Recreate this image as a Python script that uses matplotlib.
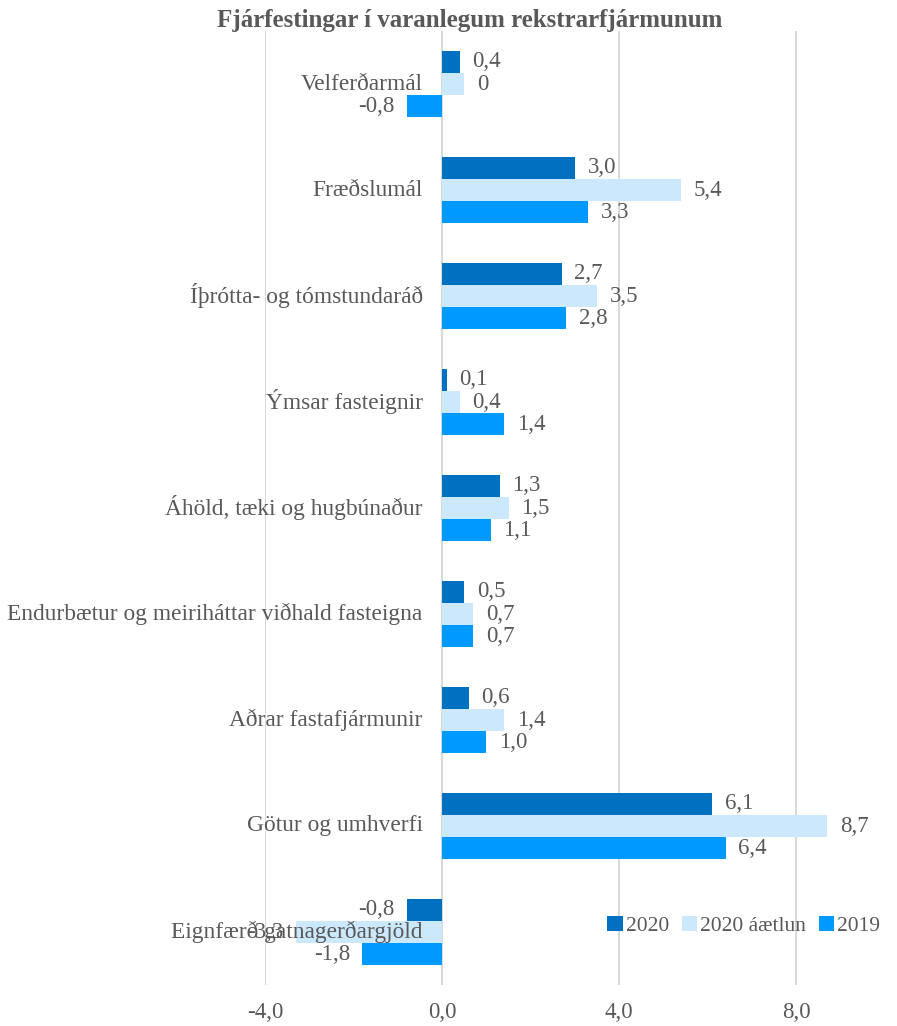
import matplotlib.pyplot as plt
import numpy as np

# data
categories = ['Velferðarmál', 'Fræðslumál', 'Íþrótta- og tómstundaráð', 'Ýmsar fasteignir',
              'Áhöld, tæki og hugbúnaður', 'Endurbætur og meiriháttar viðhald fasteigna',
              'Aðrar fastafjármunir', 'Götur og umhverfi', 'Eignfærð gatnagerðargjöld']
series_names = ['2020', '2020 áætlun', '2019']
vals_2020 = [0.4, 3.0, 2.7, 0.1, 1.3, 0.5, 0.6, 6.1, -0.8]
vals_plan = [0.5, 5.4, 3.5, 0.4, 1.5, 0.7, 1.4, 8.7, -3.3]
vals_2019 = [-0.8, 3.3, 2.8, 1.4, 1.1, 0.7, 1.0, 6.4, -1.8]
# label of the plan bar for Velferðarmál shows "0" in the source
plan_labels = ['0', '5,4', '3,5', '0,4', '1,5', '0,7', '1,4', '8,7', '-3,3']
x_ticks = [-4, 0, 4, 8]

colors = ['#0070C0', '#CCE8FC', '#0099FF']
txt = '#595959'
font = 'Liberation Serif'

def fmt(v):
    return f'{v:.1f}'.replace('.', ',')

fig = plt.figure(figsize=(8.97, 10.26), dpi=100)
ax = fig.add_axes([265 / 897, 1 - 985 / 1026, (885 - 265) / 897, (985 - 31) / 1026])

y = np.arange(len(categories))
h = 0.208
all_vals = [vals_2020, vals_plan, vals_2019]
for k, vals in enumerate(all_vals):
    pos = y + (k - 1) * h
    ax.barh(pos, vals, height=h, color=colors[k], label=series_names[k], zorder=2)
    for i, v in enumerate(vals):
        lab = plan_labels[i] if k == 1 else fmt(v)
        if v >= 0:
            ax.annotate(lab, (v, pos[i]), xytext=(9, 0), textcoords='offset points',
                        ha='left', va='center', fontsize=16.5, color=txt, family=font, zorder=4)
        else:
            ax.annotate(lab, (v, pos[i]), xytext=(-9, 0), textcoords='offset points',
                        ha='right', va='center', fontsize=16.5, color=txt, family=font, zorder=4)

# category labels sit next to the zero line, as in Excel
for i, c in enumerate(categories):
    ax.annotate(c, (0, y[i]), xytext=(-14, 0), textcoords='offset points',
                ha='right', va='center', fontsize=16.8, color=txt, family=font,
                zorder=5, annotation_clip=False)

ax.set_xlim(-4, 10)
ax.set_ylim(len(categories) - 0.5, -0.5)
ax.set_xticks(x_ticks)
ax.set_xticklabels([fmt(t) for t in x_ticks], fontsize=16.5, color=txt, family=font)
ax.set_yticks([])
ax.tick_params(axis='x', length=0, pad=12)
ax.grid(axis='x', color='#D9D9D9', linewidth=1.5, zorder=0)
ax.set_axisbelow(True)
for s in ax.spines.values():
    s.set_visible(False)

fig.text(470 / 897, 1 - 20 / 1026, 'Fjárfestingar í varanlegum rekstrarfjármunum',
         ha='center', va='center', fontsize=18, fontweight='bold', color=txt, family=font)

leg = fig.legend(loc='center right', bbox_to_anchor=(1.003, 1 - 926 / 1026), ncol=3, frameon=False,
                 prop={'family': font, 'size': 15.5}, handlelength=0.7, handleheight=0.7,
                 handletextpad=0.15, columnspacing=0.6, labelcolor=txt)

fig.savefig('out.png', dpi=100)
